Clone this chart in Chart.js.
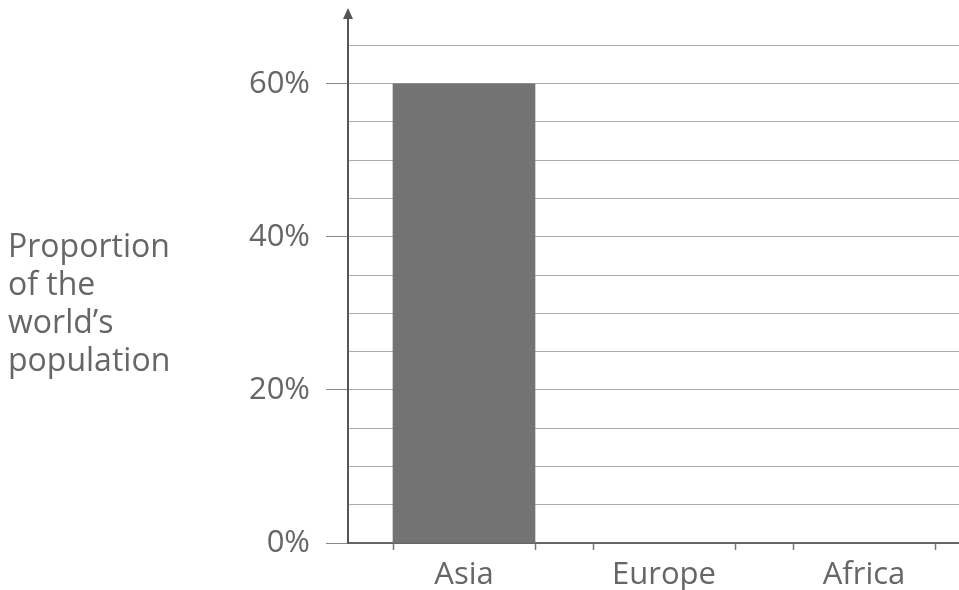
<!DOCTYPE html>
<html>
<head>
<meta charset="utf-8">
<script src="https://cdn.jsdelivr.net/npm/chart.js@4.4.1/dist/chart.umd.min.js"></script>
<style>
  html, body { margin: 0; padding: 0; background: #fff; overflow: hidden; }
  #wrap { position: relative; width: 959px; height: 590px; }
  #ylabel {
    position: absolute; left: 8px; top: 226px;
    font-family: "Open Sans", sans-serif; font-size: 32px; line-height: 38px;
    color: #666;
  }
</style>
</head>
<body>
<div id="wrap">
  <canvas id="chart" width="959" height="590"></canvas>
  <div id="ylabel">Proportion<br>of the<br>world’s<br>population</div>
</div>
<script>
var categories = ["Asia", "Europe", "Africa"];
var shares = [60, null, null];           // only Asia is filled in
var yTicks = [0, 5, 10, 15, 20, 25, 30, 35, 40, 45, 50, 55, 60, 65];
var yLabelled = [0, 20, 40, 60];
var halfBar = 0.355;                     // tick marks at the bar edges

var TEXT = "#666";
var FONT = { family: "Open Sans", size: 31 };

// x ticks: left edge, centre (label), right edge for each category
var xTicks = [];
categories.forEach(function (c, i) {
  xTicks.push(i - halfBar, i, i + halfBar);
});

var arrowPlugin = {
  id: "arrow",
  afterDraw: function (chart) {
    var ctx = chart.ctx;
    var x = chart.chartArea.left;
    var top = chart.chartArea.top;
    ctx.save();
    ctx.fillStyle = "#555";
    ctx.beginPath();
    ctx.moveTo(x, top - 3);
    ctx.lineTo(x - 5, top + 8);
    ctx.lineTo(x + 5, top + 8);
    ctx.closePath();
    ctx.fill();
    ctx.restore();
  }
};

Chart.defaults.animation = false;

new Chart(document.getElementById("chart"), {
  type: "bar",
  data: {
    datasets: [{
      data: categories.map(function (c, i) { return { x: i, y: shares[i] }; }),
      backgroundColor: "#737373",
      borderWidth: 0,
      barThickness: 142
    }]
  },
  options: {
    responsive: false,
    layout: { padding: { top: 11, left: 0, right: 0, bottom: 0 } },
    plugins: { legend: { display: false }, tooltip: { enabled: false } },
    scales: {
      x: {
        type: "linear",
        offset: false,
        min: -0.58,
        max: 2.475,
        afterBuildTicks: function (s) {
          s.ticks = xTicks.map(function (v) { return { value: v }; });
        },
        afterFit: function (s) {
          s.height = 47;
          s.paddingLeft = 0;
          s.paddingRight = 0;
        },
        ticks: {
          autoSkip: false,
          maxRotation: 0,
          padding: 7,
          color: TEXT,
          font: FONT,
          callback: function (v) {
            var i = categories.findIndex(function (c, k) { return Math.abs(k - v) < 1e-6; });
            return i >= 0 ? categories[i] : "";
          }
        },
        grid: {
          offset: false,
          drawOnChartArea: false,
          tickLength: 7,
          tickWidth: 1.5,
          tickColor: function (ctx) {
            return ctx.index % 3 === 1 ? "rgba(0,0,0,0)" : "#777";
          }
        },
        border: { color: "#666", width: 2 }
      },
      y: {
        min: 0,
        max: 69.5,
        afterBuildTicks: function (s) {
          s.ticks = yTicks.map(function (v) { return { value: v }; });
        },
        afterFit: function (s) {
          s.width = 348;
          s.paddingTop = 0;
          s.paddingBottom = 0;
        },
        ticks: {
          padding: 16,
          color: TEXT,
          font: FONT,
          callback: function (v) {
            return yLabelled.indexOf(v) >= 0 ? v + "%" : "";
          }
        },
        grid: {
          color: "#aaa",
          lineWidth: 1,
          tickLength: 22,
          tickColor: function (ctx) {
            return yLabelled.indexOf(ctx.tick.value) >= 0 ? "#888" : "rgba(0,0,0,0)";
          }
        },
        border: { color: "#555", width: 2 }
      }
    }
  },
  plugins: [arrowPlugin]
});
</script>
</body>
</html>
